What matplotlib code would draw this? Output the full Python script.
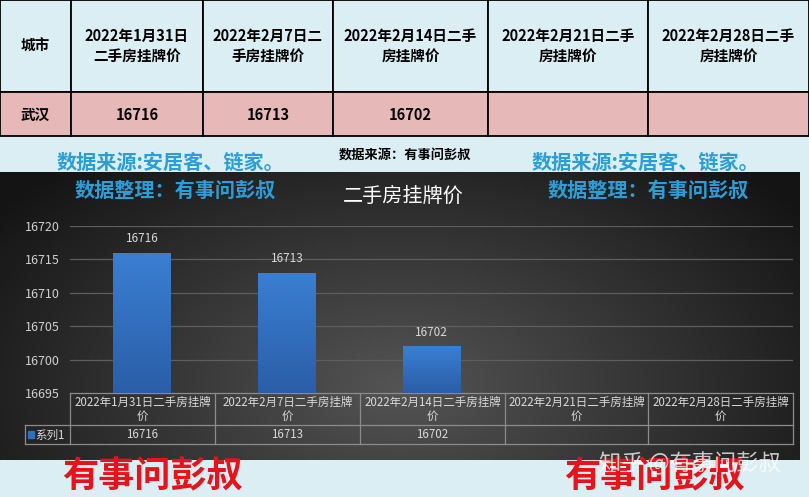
import numpy as np
import matplotlib
matplotlib.use("Agg")
import matplotlib.pyplot as plt
from matplotlib.patches import Rectangle
from matplotlib.colors import LinearSegmentedColormap

plt.rcParams['font.family'] = ['Noto Sans CJK SC', 'DejaVu Sans']

# ---- data ----
city = "武汉"
table_headers = ["城市", "2022年1月31日\n二手房挂牌价", "2022年2月7日二\n手房挂牌价",
                 "2022年2月14日二手\n房挂牌价", "2022年2月21日二手\n房挂牌价", "2022年2月28日二手\n房挂牌价"]
categories = ["2022年1月31日二手房挂牌\n价", "2022年2月7日二手房挂牌\n价", "2022年2月14日二手房挂牌\n价",
              "2022年2月21日二手房挂牌\n价", "2022年2月28日二手房挂牌\n价"]
prices = [16716, 16713, 16702, None, None]
series_name = "系列1"
y_ticks = [16695, 16700, 16705, 16710, 16715, 16720]

W, H = 809, 497
fig = plt.figure(figsize=(W / 100, H / 100), dpi=100)
bg = fig.add_axes([0, 0, 1, 1])
bg.set_xlim(0, W)
bg.set_ylim(H, 0)
bg.axis('off')
bg.add_patch(Rectangle((0, 0), W, H, color='#dbeef4', zorder=0))

# ---- top table ----
col_x = [0, 71, 203, 333, 488, 648, 809]
row_y = [0, 92, 136]
for i in range(len(col_x) - 1):
    bg.add_patch(Rectangle((col_x[i], row_y[0]), col_x[i + 1] - col_x[i], row_y[1] - row_y[0],
                           facecolor='#dbeef4', edgecolor='black', lw=1.3, zorder=1))
    bg.add_patch(Rectangle((col_x[i], row_y[1]), col_x[i + 1] - col_x[i], row_y[2] - row_y[1],
                           facecolor='#e6b8b7', edgecolor='black', lw=1.3, zorder=1))
    cx = (col_x[i] + col_x[i + 1]) / 2
    bg.text(cx, 46, table_headers[i], ha='center', va='center', fontsize=10.5,
            fontweight='semibold', color='black', linespacing=1.3, zorder=2)
row_vals = [city] + [str(p) if p is not None else "" for p in prices]
for i, v in enumerate(row_vals):
    cx = (col_x[i] + col_x[i + 1]) / 2
    bg.text(cx, 115, v, ha='center', va='center', fontsize=10.5, fontweight='semibold',
            color='black', zorder=2)

# ---- dark chart background (radial-ish gradient) ----
gx, gy = np.meshgrid(np.linspace(-1, 1, 400), np.linspace(-1, 1, 150))
d = np.sqrt((gx * 1.0) ** 2 + ((gy - 0.5) * 0.6) ** 2)
shade = np.clip(0.33 - 0.2 * d, 0.08, 0.35)
bg.imshow(np.dstack([shade, shade, shade]), extent=(0, 800, 460, 172),
          aspect='auto', zorder=1, interpolation='bilinear')

# watermark / header texts
blue = '#2b9ed8'
for x0 in (170, 645):
    bg.text(x0, 162, "数据来源:安居客、链家。", ha='center', va='center', fontsize=14.5,
            fontweight='bold', color=blue, zorder=3)
for x0 in (175, 648):
    bg.text(x0, 190, "数据整理：有事问彭叔", ha='center', va='center', fontsize=14.5,
            fontweight='bold', color=blue, zorder=3)
bg.text(405, 155, "数据来源：有事问彭叔", ha='center', va='center', fontsize=9.5,
        fontweight='bold', color='black', zorder=3)
bg.text(403, 196, "二手房挂牌价", ha='center', va='center', fontsize=14.5,
        color='white', zorder=3)

# ---- bar chart ----
ax = fig.add_axes([70 / W, (H - 393) / H, (793 - 70) / W, (393 - 226) / H])
ax.set_facecolor('none')
ax.set_xlim(-0.5, len(categories) - 0.5)
ax.set_ylim(y_ticks[0], y_ticks[-1])
ax.set_yticks(y_ticks)
ax.tick_params(axis='y', length=0, labelsize=9, labelcolor='#d0d0d0', pad=7)
ax.set_xticks([])
for s in ax.spines.values():
    s.set_visible(False)
for t in y_ticks[1:]:
    ax.axhline(t, color='#5e5e5e', lw=0.9, zorder=1)

xs = [i for i, p in enumerate(prices) if p is not None]
hs = [p for p in prices if p is not None]
bars = ax.bar(xs, hs, width=0.4, color='#2f6fc0', zorder=2)
cmap = LinearSegmentedColormap.from_list('barg', ['#2a5ea8', '#3a7fd2'])
for b, h in zip(bars, hs):
    grad = np.linspace(0, 1, 100).reshape(-1, 1)
    im = ax.imshow(grad, cmap=cmap, origin='lower', aspect='auto', zorder=3,
                   extent=(b.get_x(), b.get_x() + b.get_width(), y_ticks[0], h))
    im.set_clip_path(b)
    ax.text(b.get_x() + b.get_width() / 2, h + 1.1, str(h), ha='center', va='bottom',
            fontsize=8.5, color='#d9d9d9', zorder=4)
ax.set_xlim(-0.5, len(categories) - 0.5)
ax.set_ylim(y_ticks[0], y_ticks[-1])

# ---- data table under chart ----
tbl_x = [70, 215, 360, 505, 648, 793]
line_c = '#8c8c8c'
bg.plot([70, 793], [393, 393], color=line_c, lw=0.9, zorder=3)
bg.plot([25, 793], [425, 425], color=line_c, lw=0.9, zorder=3)
bg.plot([25, 793], [444, 444], color=line_c, lw=0.9, zorder=3)
for x in tbl_x:
    bg.plot([x, x], [393, 444], color=line_c, lw=0.9, zorder=3)
bg.plot([25, 25], [425, 444], color=line_c, lw=0.9, zorder=3)
for i, c in enumerate(categories):
    cx = (tbl_x[i] + tbl_x[i + 1]) / 2
    bg.text(cx, 409, c, ha='center', va='center', fontsize=8.3, color='#d9d9d9',
            linespacing=1.1, zorder=4)
    if prices[i] is not None:
        bg.text(cx, 435, str(prices[i]), ha='center', va='center', fontsize=8.3,
                color='#d9d9d9', zorder=4)
bg.add_patch(Rectangle((28, 431), 6, 7, color='#2f6fc0', zorder=4))
bg.text(35, 435, series_name, ha='left', va='center', fontsize=8.3, color='#d9d9d9', zorder=4)

# ---- bottom watermarks ----
bg.text(690, 463, "知乎 @有事问彭叔", ha='center', va='center', fontsize=16,
        color='white', alpha=0.75, zorder=5)
for x0 in (152, 654):
    bg.text(x0, 477, "有事问彭叔", ha='center', va='center', fontsize=26,
            fontweight='bold', color='#e8121b', zorder=4)

fig.savefig('out.png', dpi=100)
